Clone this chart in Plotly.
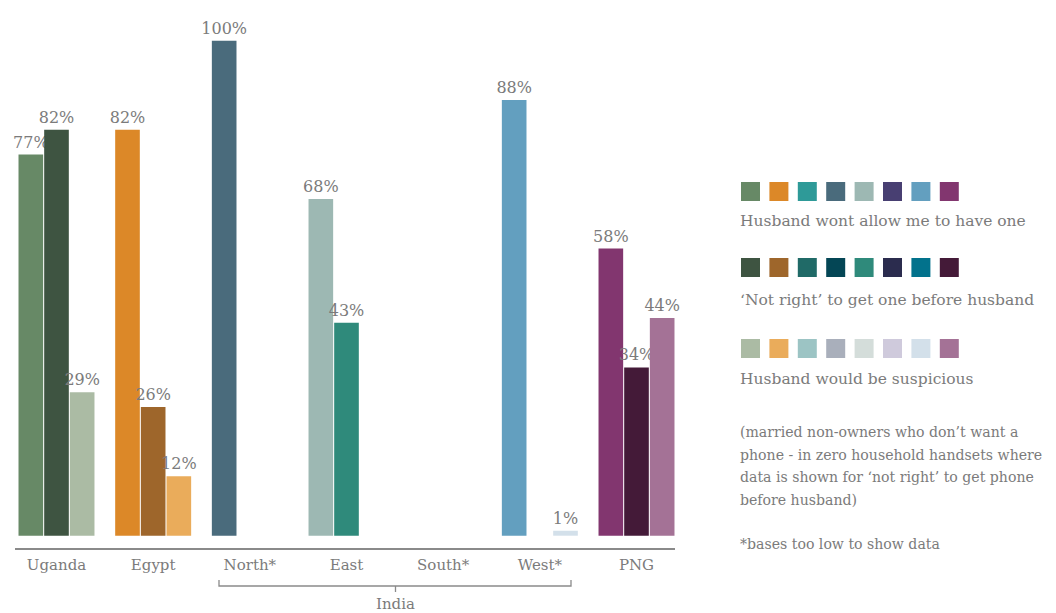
import plotly.graph_objects as go

# ---- data ----
places = ["Uganda", "Egypt", "North*", "East", "South*", "West*", "PNG"]
wont_allow = [77, 82, 100, 68, None, 88, 58]
not_right = [82, 26, None, 43, None, None, 34]
suspicious = [29, 12, None, None, None, 1, 44]

series_names = ["Husband wont allow me to have one",
                "\u2018Not right\u2019 to get one before husband",
                "Husband would be suspicious"]

# palette columns (legend swatches), one per country/region slot
pal_wont = ["#678966", "#DC8828", "#2E9A98", "#4A6B7C", "#9DB8B3", "#483F72", "#639FBF", "#82366F"]
pal_notright = ["#3E5441", "#9E662B", "#206A67", "#044655", "#2F8A7B", "#2B2C4E", "#02728C", "#441A38"]
pal_susp = ["#ABBBA4", "#EAAC5B", "#9CC4C4", "#A9AFBB", "#D4DDDA", "#CFCADC", "#D3E0EA", "#A47296"]
place_col = [0, 1, 3, 4, 5, 6, 7]

note_lines = ["(married non-owners who don\u2019t want a",
              "phone - in zero household handsets where",
              "data is shown for \u2018not right\u2019 to get phone",
              "before husband)"]
footnote = "*bases too low to show data"

GREY = "#7b7b7b"
FONT = "DejaVu Serif"

# page body has an 8px default margin -> shrink figure accordingly
OFF = 8
FW, FH = 1056 - OFF, 613 - OFF
# plot area in page pixels: x 15..675, y 10..548
PL, PT, PW, PH = 15, 10, 660, 538
def px(x):
    return (x - PL) / PW
def py(y):
    return (PT + PH - y) / PH

fig = go.Figure()
xs = list(range(len(places)))
for vals, pal in [(wont_allow, pal_wont), (not_right, pal_notright), (suspicious, pal_susp)]:
    fig.add_trace(go.Bar(
        x=xs, y=vals,
        marker=dict(color=[pal[c] for c in place_col], line=dict(width=0)),
        texttemplate="%{y}%", textposition="outside", constraintext="none",
        cliponaxis=False,
        textfont=dict(family=FONT, size=16, color=GREY),
        hoverinfo="skip", showlegend=False,
    ))

shapes = []
annotations = []

# legend swatches + labels
row_tops = [182, 258, 339]
row_text = [221, 300, 379]
for r, (pal, name) in enumerate(zip([pal_wont, pal_notright, pal_susp], series_names)):
    for i, c in enumerate(pal):
        x0 = 741 + i * 28.4
        shapes.append(dict(type="rect", xref="paper", yref="paper",
                           x0=px(x0), x1=px(x0 + 19), y0=py(row_tops[r] + 19), y1=py(row_tops[r]),
                           fillcolor=c, line=dict(width=0)))
    annotations.append(dict(xref="paper", yref="paper", x=px(738), y=py(row_text[r]),
                            xanchor="left", yanchor="middle", showarrow=False, text=name,
                            font=dict(family=FONT, size=15.5, color=GREY)))

for i, line in enumerate(note_lines):
    annotations.append(dict(xref="paper", yref="paper", x=px(738), y=py(432 + i * 22.7),
                            xanchor="left", yanchor="middle", showarrow=False, text=line,
                            font=dict(family=FONT, size=14.1, color=GREY)))
annotations.append(dict(xref="paper", yref="paper", x=px(738), y=py(544),
                        xanchor="left", yanchor="middle", showarrow=False, text=footnote,
                        font=dict(family=FONT, size=14.1, color=GREY)))

# India bracket
bx0, bx1, bxc = px(219), px(571), px(395.5)
by0, by1, by2 = py(580), py(586), py(592)
shapes.append(dict(type="path", xref="paper", yref="paper",
                   path=f"M {bx0},{by0} L {bx0},{by1} L {bx1},{by1} L {bx1},{by0} M {bxc},{by1} L {bxc},{by2}",
                   line=dict(color="#8a8a8a", width=1.3)))
annotations.append(dict(xref="paper", yref="paper", x=bxc, y=py(604),
                        xanchor="center", yanchor="middle", showarrow=False, text="India",
                        font=dict(family=FONT, size=15, color=GREY)))

px_per = 4.95
y0 = -(PT + PH - 535.7) / px_per
y1 = y0 + PH / px_per
unit = 96.67
fig.update_layout(
    width=FW, height=FH,
    margin=dict(l=PL - OFF, r=FW - (PL - OFF) - PW, t=PT - OFF, b=FH - (PT - OFF) - PH, pad=0),
    paper_bgcolor="white", plot_bgcolor="white",
    barmode="group", bargap=0.2035, bargroupgap=0.04,
    shapes=shapes, annotations=annotations,
    xaxis=dict(range=[-(56.5 - PL) / unit, 6 + (PL + PW - 636.5) / unit],
               tickvals=xs, ticktext=places, showgrid=False, zeroline=False,
               showline=True, linecolor="#8a8a8a", linewidth=1.5,
               ticks="outside", ticklen=2, tickcolor="rgba(0,0,0,0)",
               tickfont=dict(family=FONT, size=15, color=GREY), fixedrange=True),
    yaxis=dict(range=[y0, y1], visible=False, showgrid=False, zeroline=False, fixedrange=True),
)

fig.write_html("out.html")
